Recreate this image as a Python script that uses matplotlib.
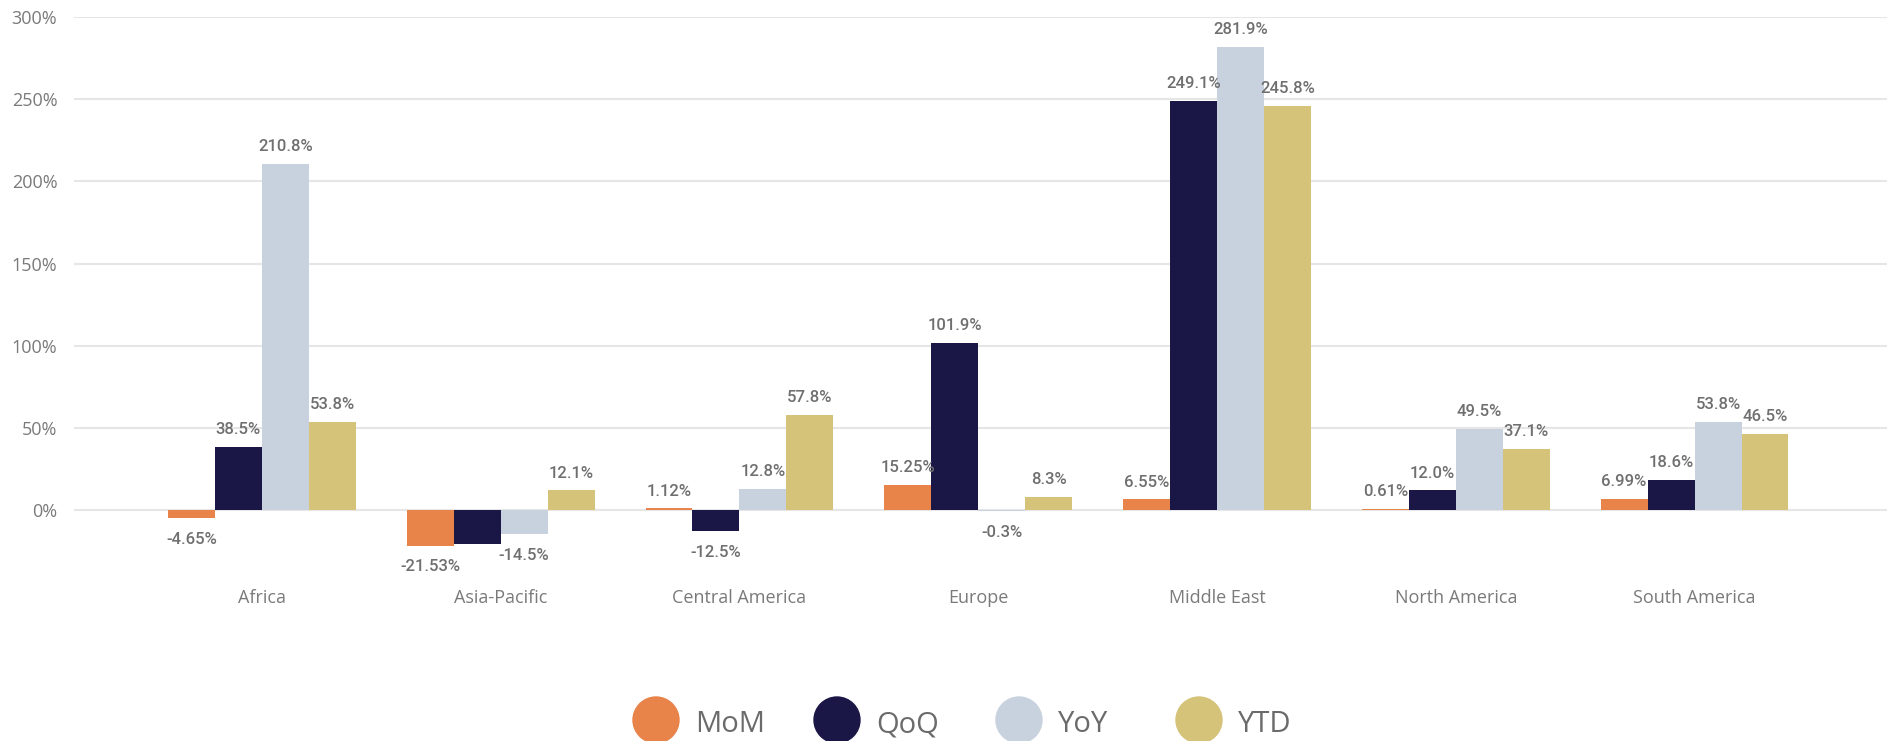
import matplotlib
matplotlib.use("Agg")
from matplotlib import pyplot as plt
from matplotlib.patches import Circle
import numpy as np

regions = ["Africa", "Asia-Pacific", "Central America", "Europe",
           "Middle East", "North America", "South America"]
series = ["MoM", "QoQ", "YoY", "YTD"]
colors = ["#E8834A", "#1A1646", "#C8D2DE", "#D5C37A"]

mom = [-4.65, -21.53, 1.12, 15.25, 6.55, 0.61, 6.99]
qoq = [38.5, -20.6, -12.5, 101.9, 249.1, 12.0, 18.6]
yoy = [210.8, -14.5, 12.8, -0.3, 281.9, 49.5, 53.8]
ytd = [53.8, 12.1, 57.8, 8.3, 245.8, 37.1, 46.5]
mom_labels = ["-4.65%", "-21.53%", "1.12%", "15.25%", "6.55%", "0.61%", "6.99%"]
qoq_labels = ["38.5%", "", "-12.5%", "101.9%", "249.1%", "12.0%", "18.6%"]
yoy_labels = ["210.8%", "-14.5%", "12.8%", "-0.3%", "281.9%", "49.5%", "53.8%"]
ytd_labels = ["53.8%", "12.1%", "57.8%", "8.3%", "245.8%", "37.1%", "46.5%"]

values = [mom, qoq, yoy, ytd]
labels = [mom_labels, qoq_labels, yoy_labels, ytd_labels]

W, H = 1893, 741
fig = plt.figure(figsize=(W / 100, H / 100), dpi=100)
ax = fig.add_axes([74 / W, 1 - 567.7 / H, (1887 - 74) / W, (567.7 - 17) / H])

x = np.arange(len(regions))
bw = 0.1967
grey = "#6f6f6f"

for i, (name, vals, labs, col) in enumerate(zip(series, values, labels, colors)):
    pos = x + (i - 1.5) * bw
    ax.bar(pos, vals, width=bw, color=col, zorder=3)
    for px, v, t in zip(pos, vals, labs):
        if not t:
            continue
        if v >= 0:
            ax.annotate(t, (px, v), xytext=(0, 7), textcoords="offset points",
                        ha="center", va="bottom", fontsize=12,
                        family="Roboto", weight="medium", color=grey, zorder=4)
        else:
            ax.annotate(t, (px, v), xytext=(0, -10), textcoords="offset points",
                        ha="center", va="top", fontsize=12,
                        family="Roboto", weight="medium", color=grey, zorder=4)

ax.set_xlim(-0.787, len(regions) - 1 + 0.806)
ax.set_ylim(-35, 300)
ax.set_yticks([0, 50, 100, 150, 200, 250, 300])
ax.set_yticklabels([f"{t}%" for t in [0, 50, 100, 150, 200, 250, 300]],
                   family="Open Sans", fontsize=13, color="#7a7a7a")
ax.set_xticks(x)
ax.set_xticklabels(regions, family="Open Sans", fontsize=13, color="#7a7a7a")
ax.tick_params(axis="y", length=0, pad=12)
ax.tick_params(axis="x", length=0, pad=15)
ax.grid(axis="y", color="#e6e6e6", linewidth=1.5, zorder=0)
for s in ax.spines.values():
    s.set_visible(False)

# legend drawn by hand, swatches sit right at the bottom edge
leg_x = [656, 837, 1019, 1199]
for name, col, lx in zip(series, colors, leg_x):
    c = Circle((lx, H - 720), 23, transform=None, color=col, clip_on=False)
    fig.patches.append(c)
    fig.text((lx + 39) / W, 1 - 725 / H, name, family="Open Sans", fontsize=21,
             color="#6b6b6b", va="center", ha="left")

fig.savefig("out.png", dpi=100)
